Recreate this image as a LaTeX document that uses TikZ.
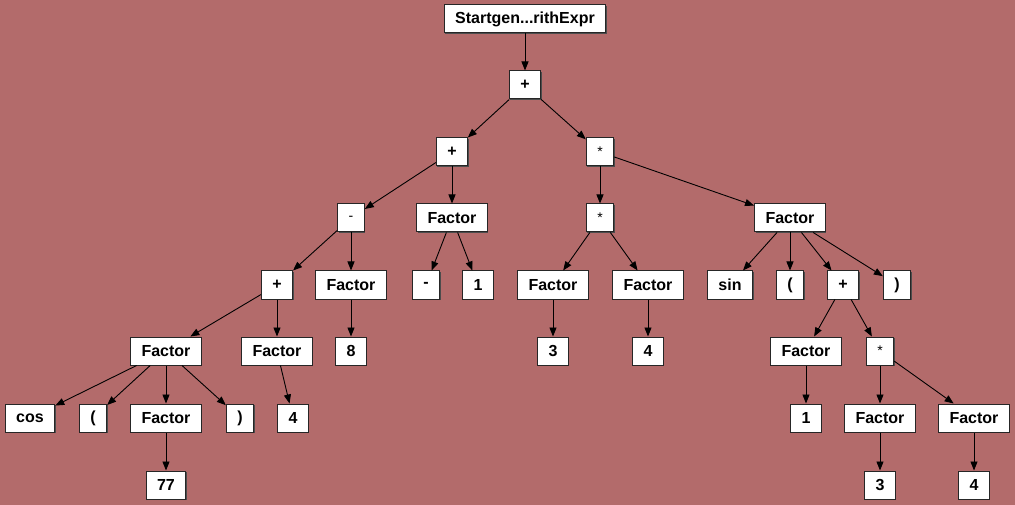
\documentclass[tikz,border=0pt]{standalone}
\usepackage{fontspec}
\setmainfont{Liberation Sans}
\usetikzlibrary{arrows.meta, shadows}
\definecolor{bg}{RGB}{179,107,107}

\begin{document}
\begin{tikzpicture}[x=1pt, y=-1pt,
		tok/.style={draw=black!85, line width=1pt, fill=white, inner xsep=11pt, minimum width=26pt, minimum height=28pt,
			font=\fontsize{16}{18}\selectfont\bfseries,
			drop shadow={shadow xshift=1pt, shadow yshift=-1pt, fill=black!70, opacity=1}},
		thin op/.style={font=\fontsize{14}{16}\selectfont},
		edge/.style={-{Triangle[length=9pt, width=7pt]}, line width=0.9pt}]
			\fill[bg] (0,0) rectangle (1015,505);
			\useasboundingbox (0,0) rectangle (1015,505);
			% tree, top to bottom
			\node[tok] (start) at (525,19) {Startgen...rithExpr};
			\node[tok] (p1) at (525,85) {+};
			\node[tok] (p2) at (452,152) {+};
			\node[tok, thin op] (m1) at (600,152) {*};
			\node[tok, thin op] (minus) at (351,218) {-};
			\node[tok] (f1) at (452,218) {Factor};
			\node[tok, thin op] (m2) at (600,218) {*};
			\node[tok] (f2) at (790,218) {Factor};
			\node[tok] (p3) at (277,285) {+};
			\node[tok] (f3) at (351,285) {Factor};
			\node[tok] (neg) at (426,285) {-};
			\node[tok] (one) at (478,285) {1};
			\node[tok] (f4) at (553,285) {Factor};
			\node[tok] (f5) at (648,285) {Factor};
			\node[tok] (sin) at (730,285) {sin};
			\node[tok] (lp2) at (790,285) {(};
			\node[tok] (p4) at (843,285) {+};
			\node[tok] (rp2) at (897,285) {)};
			\node[tok] (f6) at (166,351) {Factor};
			\node[tok] (f7) at (277,351) {Factor};
			\node[tok] (eight) at (351,351) {8};
			\node[tok] (three) at (553,351) {3};
			\node[tok] (four) at (648,351) {4};
			\node[tok] (f8) at (806,351) {Factor};
			\node[tok, thin op] (m3) at (880,351) {*};
			\node[tok] (cos) at (30,418) {cos};
			\node[tok] (lp1) at (93,418) {(};
			\node[tok] (f9) at (166,418) {Factor};
			\node[tok] (rp1) at (240,418) {)};
			\node[tok] (four2) at (293,418) {4};
			\node[tok] (one2) at (806,418) {1};
			\node[tok] (f10) at (880,418) {Factor};
			\node[tok] (f11) at (974,418) {Factor};
			\node[tok] (n77) at (166,485) {77};
			\node[tok] (three2) at (880,485) {3};
			\node[tok] (four3) at (974,485) {4};
			\foreach \a/\b in {start/p1, p1/p2, p1/m1, p2/minus, p2/f1, m1/m2, m1/f2,
				minus/p3, minus/f3, f1/neg, f1/one, m2/f4, m2/f5, f2/sin, f2/lp2, f2/p4, f2/rp2,
				p3/f6, p3/f7, f3/eight, f4/three, f5/four, p4/f8, p4/m3,
				f6/cos, f6/lp1, f6/f9, f6/rp1, f7/four2, f8/one2, m3/f10, m3/f11,
				f9/n77, f10/three2, f11/four3}
			\draw[edge] (\a) -- (\b);
		\end{tikzpicture}
\end{document}
